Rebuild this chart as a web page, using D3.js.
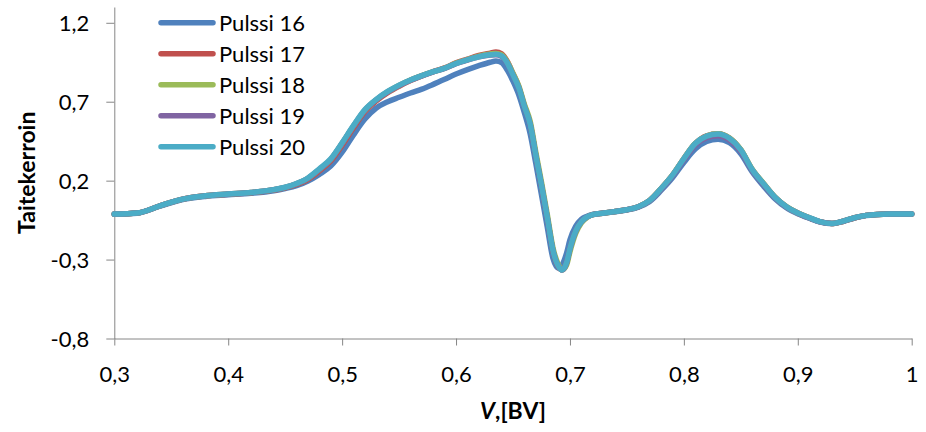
<!DOCTYPE html>
<html lang="fi">
<head>
<meta charset="UTF-8">
<title>Taitekerroin</title>
<script src="https://d3js.org/d3.v7.min.js"></script>
<style>
  html, body { margin: 0; padding: 0; background: #fff; }
  svg text { font-family: Lato, "Open Sans", sans-serif; fill: #000; }
  .axis path, .axis line { stroke: #868686; stroke-width: 1; }
</style>
</head>
<body>
<div id="chart"></div>
<script>
// V values (BV) shared by all pulses
const voltage = [0.30,0.32,0.34,0.36,0.38,0.40,0.42,0.44,0.45,0.46,0.47,0.48,0.49,
  0.50,0.51,0.52,0.53,0.54,0.55,0.56,0.57,0.58,0.59,0.60,0.61,0.62,0.63,
  0.635,0.64,0.645,0.65,0.655,0.66,0.665,0.67,0.675,0.68,0.685,0.69,
  0.693,0.697,0.70,0.705,0.71,0.715,0.72,
  0.73,0.74,0.75,0.76,0.77,0.78,0.79,0.80,0.81,0.82,0.83,0.84,0.85,0.86,0.87,0.88,0.89,
  0.90,0.91,0.92,0.93,0.94,0.95,0.96,0.97,0.98,0.99,1.00];

const pulssi16 = [-0.012,-0.006,0.038,0.080,0.100,0.110,0.120,0.136,0.150,0.168,0.198,0.240,0.292,
  0.380,0.490,0.590,0.660,0.700,0.728,0.755,0.780,0.810,0.842,0.875,0.903,0.928,0.950,
  0.958,0.948,0.900,0.830,0.745,0.630,0.500,0.310,0.110,-0.090,-0.290,-0.355,
  -0.335,-0.260,-0.175,-0.090,-0.045,-0.025,-0.014,
  -0.005,0.004,0.014,0.032,0.068,0.138,0.218,0.315,0.400,0.448,0.462,0.440,0.370,0.255,0.165,0.085,0.028,
  -0.010,-0.038,-0.062,-0.072,-0.058,-0.036,-0.021,-0.015,-0.012,-0.012,-0.012];

const pulssi17 = [-0.012,-0.005,0.040,0.083,0.104,0.114,0.124,0.140,0.154,0.176,0.208,0.262,0.325,
  0.425,0.535,0.638,0.705,0.757,0.798,0.834,0.864,0.890,0.914,0.946,0.970,0.993,1.008,
  1.015,1.003,0.955,0.878,0.796,0.675,0.563,0.362,0.170,-0.030,-0.240,-0.348,
  -0.364,-0.322,-0.232,-0.122,-0.061,-0.030,-0.015,
  -0.005,0.005,0.016,0.035,0.075,0.150,0.235,0.340,0.435,0.484,0.497,0.470,0.395,0.270,0.180,0.095,0.035,
  -0.005,-0.035,-0.061,-0.072,-0.057,-0.035,-0.020,-0.014,-0.012,-0.012,-0.012];

const pulssi18 = [-0.012,-0.005,0.040,0.083,0.104,0.115,0.125,0.142,0.157,0.180,0.214,0.270,0.334,
  0.436,0.546,0.646,0.712,0.763,0.803,0.837,0.865,0.890,0.913,0.944,0.967,0.989,1.002,
  1.006,0.996,0.952,0.880,0.802,0.684,0.578,0.382,0.192,-0.010,-0.222,-0.335,
  -0.366,-0.335,-0.250,-0.135,-0.068,-0.033,-0.016,
  -0.005,0.005,0.016,0.035,0.075,0.150,0.235,0.340,0.435,0.483,0.497,0.470,0.396,0.272,0.182,0.096,0.036,
  -0.005,-0.035,-0.061,-0.072,-0.057,-0.035,-0.020,-0.014,-0.012,-0.012,-0.012];

const pulssi19 = [-0.012,-0.005,0.040,0.083,0.104,0.115,0.125,0.142,0.157,0.180,0.214,0.270,0.334,
  0.436,0.546,0.646,0.712,0.762,0.802,0.836,0.864,0.889,0.911,0.941,0.964,0.984,0.996,
  0.998,0.988,0.944,0.870,0.790,0.670,0.560,0.360,0.170,-0.030,-0.240,-0.345,
  -0.366,-0.322,-0.232,-0.122,-0.060,-0.030,-0.015,
  -0.005,0.005,0.016,0.034,0.073,0.146,0.230,0.332,0.425,0.472,0.485,0.458,0.385,0.264,0.175,0.092,0.033,
  -0.006,-0.036,-0.062,-0.072,-0.057,-0.035,-0.020,-0.014,-0.012,-0.012,-0.012];

const pulssi20 = [-0.012,-0.005,0.040,0.083,0.104,0.115,0.125,0.143,0.158,0.182,0.217,0.275,0.338,
  0.440,0.550,0.650,0.715,0.765,0.805,0.838,0.865,0.890,0.912,0.942,0.965,0.985,0.997,
  1.000,0.990,0.945,0.870,0.790,0.670,0.560,0.360,0.170,-0.030,-0.240,-0.345,
  -0.366,-0.320,-0.230,-0.120,-0.060,-0.030,-0.015,
  -0.005,0.005,0.016,0.035,0.075,0.150,0.235,0.340,0.435,0.482,0.495,0.468,0.395,0.270,0.180,0.095,0.035,
  -0.005,-0.034,-0.061,-0.072,-0.056,-0.034,-0.020,-0.014,-0.012,-0.012,-0.012];

const seriesNames = ["Pulssi 16", "Pulssi 17", "Pulssi 18", "Pulssi 19", "Pulssi 20"];
const seriesValues = [pulssi16, pulssi17, pulssi18, pulssi19, pulssi20];
const colors = ["#4F81BD", "#C0504D", "#9BBB59", "#8064A2", "#4BACC6"];

const xTicks = [0.3, 0.4, 0.5, 0.6, 0.7, 0.8, 0.9, 1.0];
const yTicks = [-0.8, -0.3, 0.2, 0.7, 1.2];

const width = 926, height = 432;
const margin = { left: 114.3, right: 14.3, top: 7, bottom: 93.5 };

const svg = d3.select("#chart").append("svg")
  .attr("width", width)
  .attr("height", height);

const x = d3.scaleLinear().domain([0.3, 1.0]).range([margin.left, width - margin.right]);
const y = d3.scaleLinear().domain([-0.8, 1.3]).range([height - margin.bottom, margin.top]);

// finnish style numbers: comma decimal, hyphen minus
const fi = d3.formatLocale({ decimal: ",", thousands: " ", grouping: [3], currency: ["", " €"], minus: "-" });
const fmt = fi.format(".1~f");

// x axis
const xAxis = svg.append("g")
  .attr("class", "axis")
  .attr("transform", `translate(0,${y(-0.8)})`)
  .call(d3.axisBottom(x).tickValues(xTicks).tickFormat(fmt).tickSize(7).tickSizeOuter(0));
xAxis.selectAll("text")
  .attr("y", 0).attr("dy", null)
  .attr("transform", "translate(0,43.5)")
  .style("font-size", "22px");

// y axis
const yAxis = svg.append("g")
  .attr("class", "axis")
  .attr("transform", `translate(${x(0.3)},0)`)
  .call(d3.axisLeft(y).tickValues(yTicks).tickFormat(fmt).tickSize(8).tickSizeOuter(0));
yAxis.selectAll("text")
  .attr("x", -25).attr("dy", null)
  .attr("y", 8)
  .style("font-size", "22px");

// lines
const line = d3.line()
  .x((d, i) => x(voltage[i]))
  .y(d => y(d))
  .curve(d3.curveMonotoneX);

svg.append("g")
  .selectAll("path")
  .data(seriesValues)
  .join("path")
  .attr("d", line)
  .attr("fill", "none")
  .attr("stroke", (d, i) => colors[i])
  .attr("stroke-width", 5.5)
  .attr("stroke-linejoin", "round")
  .attr("stroke-linecap", "round");

// legend
const legend = svg.append("g");
const rows = legend.selectAll("g")
  .data(seriesNames)
  .join("g")
  .attr("transform", (d, i) => `translate(0,${22.7 + i * 31})`);
rows.append("line")
  .attr("x1", 161).attr("x2", 213)
  .attr("stroke", (d, i) => colors[i])
  .attr("stroke-width", 5.5)
  .attr("stroke-linecap", "round");
rows.append("text")
  .attr("x", 219).attr("y", 8.5)
  .style("font-size", "22px")
  .text(d => d);

// axis titles
const xTitle = svg.append("text")
  .attr("x", (x(0.3) + x(1.0)) / 2)
  .attr("y", 418.5)
  .attr("text-anchor", "middle")
  .style("font-size", "23px")
  .style("font-weight", "bold");
xTitle.append("tspan").style("font-style", "italic").text("V");
xTitle.append("tspan").text(",[BV]");

svg.append("text")
  .attr("transform", `translate(35,${(margin.top + y(-0.8)) / 2}) rotate(-90)`)
  .attr("text-anchor", "middle")
  .style("font-size", "23px")
  .style("font-weight", "bold")
  .text("Taitekerroin");
</script>
</body>
</html>
